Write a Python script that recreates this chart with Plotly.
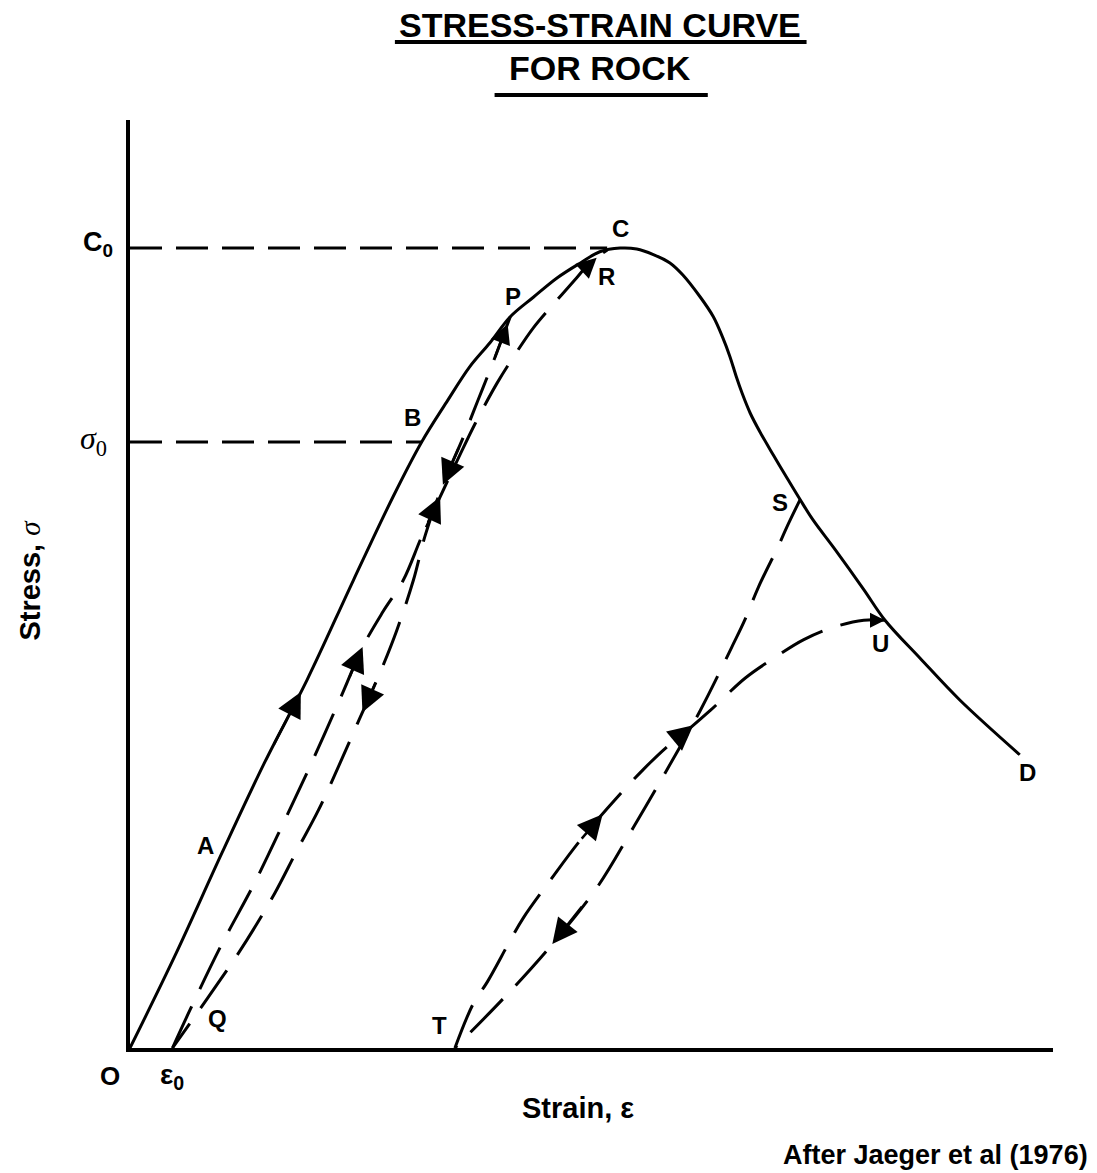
import numpy as np
import plotly.graph_objects as go

FONT = "Liberation Sans"

# Complete stress-strain envelope O-A-B-P-C-S-U-D (arbitrary units)
env_strain = [0.00, 0.49, 1.00, 1.46, 1.92, 2.42, 2.85, 3.16, 3.43, 3.68, 3.90,
              4.12, 4.37, 4.63, 4.88, 5.09, 5.31, 5.49, 5.67, 5.85, 5.99, 6.18,
              6.32, 6.42, 6.50, 6.57, 6.63, 6.72, 6.83, 6.97, 7.12, 7.26, 7.40,
              7.64, 7.95, 8.18, 8.56, 8.99, 9.64]
env_stress = [0.00, 1.00, 2.11, 3.08, 3.97, 5.04, 5.94, 6.53, 6.96, 7.34, 7.60,
              7.88, 8.09, 8.30, 8.46, 8.58, 8.62, 8.61, 8.55, 8.46, 8.33, 8.09,
              7.88, 7.66, 7.45, 7.23, 7.06, 6.84, 6.63, 6.39, 6.14, 5.91, 5.69,
              5.37, 4.94, 4.61, 4.20, 3.75, 3.16]

# Unloading from P down to Q
unload1_strain = [4.12, 3.93, 3.77, 3.61, 3.39, 3.20, 3.07, 2.89, 2.69, 2.47, 2.28,
                  2.04, 1.81, 1.57, 1.37, 1.16, 0.85, 0.46]
unload1_stress = [7.88, 7.38, 6.98, 6.58, 6.07, 5.53, 5.04, 4.50, 4.00, 3.51, 3.08,
                  2.56, 2.13, 1.67, 1.33, 1.00, 0.55, 0.00]

# Reloading from Q up to R
reload1_strain = [0.46, 0.65, 0.98, 1.35, 1.66, 1.98, 2.31, 2.52, 2.74, 2.96, 3.16,
                  3.36, 3.55, 3.74, 3.98, 4.17, 4.37, 4.60, 4.84, 4.98, 5.17]
reload1_stress = [0.00, 0.41, 1.09, 1.78, 2.42, 3.10, 3.84, 4.32, 4.70, 5.04, 5.51,
                  5.94, 6.34, 6.73, 7.17, 7.47, 7.76, 8.03, 8.30, 8.46, 8.60]

# Unloading from S down to T (post-peak)
unload2_strain = [7.26, 7.11, 7.03, 6.81, 6.66, 6.52, 6.18, 5.83, 5.45, 5.06, 4.55, 4.08, 3.52]
unload2_stress = [5.91, 5.60, 5.42, 4.97, 4.61, 4.32, 3.64, 3.02, 2.37, 1.73, 1.09, 0.57, 0.00]

# Reloading from T up to U
reload2_strain = [3.52, 3.72, 3.87, 4.12, 4.26, 4.57, 4.88, 5.25, 5.56, 5.80, 6.07,
                  6.29, 6.67, 6.99, 7.30, 7.64, 7.95, 8.18]
reload2_stress = [0.00, 0.48, 0.71, 1.16, 1.40, 1.83, 2.24, 2.67, 3.00, 3.23, 3.45,
                  3.64, 3.99, 4.21, 4.40, 4.54, 4.61, 4.61]

# named points on the envelope
I_A, I_B, I_P, I_C, I_S, I_U = 2, 7, 11, 16, 31, 35
C0 = max(env_stress)          # uniaxial compressive strength
SIGMA0 = env_stress[I_B]      # stress at B
B_STRAIN = env_strain[I_B]

fig = go.Figure()

LOOP_DASH = "46px,19px"
REF_DASH = "32px,14px"


def curve(xs, ys, dash=None, width=3):
    fig.add_trace(go.Scatter(
        x=xs, y=ys, mode="lines",
        line=dict(color="black", width=width, dash=dash, shape="spline", smoothing=1.0),
        hoverinfo="skip", cliponaxis=False))


curve(env_strain, env_stress, width=3)
curve(unload1_strain, unload1_stress, dash=LOOP_DASH)
curve(reload1_strain, reload1_stress, dash=LOOP_DASH)
curve(unload2_strain, unload2_stress, dash=LOOP_DASH)
curve(reload2_strain, reload2_stress, dash=LOOP_DASH)

# dashed reference levels C0 and sigma0
fig.add_trace(go.Scatter(x=[0, reload1_strain[-1]], y=[C0, C0], mode="lines",
                         line=dict(color="black", width=3, dash=REF_DASH), hoverinfo="skip"))
fig.add_trace(go.Scatter(x=[0, B_STRAIN], y=[SIGMA0, SIGMA0], mode="lines",
                         line=dict(color="black", width=3, dash=REF_DASH), hoverinfo="skip"))


def point_at(xs, ys, s):
    i = int(np.floor(s))
    if i >= len(xs) - 1:
        return xs[-1], ys[-1]
    f = s - i
    return xs[i] + f * (xs[i + 1] - xs[i]), ys[i] + f * (ys[i + 1] - ys[i])


def arrow(xs, ys, s_tail, s_head, size=2.0):
    x0, y0 = point_at(xs, ys, s_tail)
    x1, y1 = point_at(xs, ys, s_head)
    fig.add_annotation(x=x1, y=y1, ax=x0, ay=y0, xref="x", yref="y", axref="x", ayref="y",
                       text="", showarrow=True, arrowhead=2, arrowsize=size, arrowwidth=2.5,
                       arrowcolor="black", standoff=0, startstandoff=0)


# direction arrows along the loading paths
arrow(env_strain, env_stress, 3.2, 3.85)
arrow(unload1_strain, unload1_stress, 0.9, 0.15, size=1.6)
arrow(unload1_strain, unload1_stress, 3.2, 4.0)
arrow(unload1_strain, unload1_stress, 8.1, 8.78)
arrow(reload1_strain, reload1_stress, 6.3, 7.0)
arrow(reload1_strain, reload1_stress, 10.2, 11.0)
arrow(reload1_strain, reload1_stress, 18.5, 19.4, size=1.6)
arrow(unload2_strain, unload2_stress, 9.3, 9.95)
arrow(reload2_strain, reload2_stress, 6.0, 6.65)
arrow(reload2_strain, reload2_stress, 9.5, 10.15)
arrow(reload2_strain, reload2_stress, 16.5, 17.0, size=1.2)


def label(text, x, y, dx, dy, size=24, family=FONT):
    fig.add_annotation(x=x, y=y, xref="x", yref="y", text=text, showarrow=False,
                       xshift=dx, yshift=dy, font=dict(size=size, family=family, color="black"))


label("<b>O</b>", 0, 0, -20, -28, size=26)
label("<b>ε<sub>0</sub></b>", unload1_strain[-1], 0, 0, -28, size=28)
label("<b>Q</b>", unload1_strain[-1], 0, 45, 30)
label("<b>T</b>", unload2_strain[-1], 0, -15, 23)
label("<b>A</b>", env_strain[I_A], env_stress[I_A], -17, 7)
label("<b>B</b>", B_STRAIN, SIGMA0, -9, 25)
label("<b>P</b>", env_strain[I_P], env_stress[I_P], 3, 20)
label("<b>C</b>", env_strain[I_C], env_stress[I_C], 0, 20)
label("<b>R</b>", reload1_strain[-1], reload1_stress[-1], -1, -27)
label("<b>S</b>", env_strain[I_S], env_stress[I_S], -20, -3)
label("<b>U</b>", env_strain[I_U], env_stress[I_U], -5, -23)
label("<b>D</b>", env_strain[-1], env_stress[-1], 8, -18)
label("<b>C<sub>0</sub></b>", 0, C0, -32, 4, size=27)
label("<i>σ</i><sub>0</sub>", 0, SIGMA0, -37, 2, size=32, family="Liberation Serif")


def note(text, x, y, size, **kw):
    fig.add_annotation(x=x, y=y, xref="paper", yref="paper", showarrow=False,
                       xanchor=kw.pop("xanchor", "center"), yanchor="middle",
                       text=text, font=dict(size=size, family=FONT, color="black"), **kw)


# axis titles, heading and source note
note("<b>Stress,</b> <span style='font-family:Liberation Serif'><i>σ</i></span>",
     -0.108, 0.504, 29, textangle=-90)
note("<b>Strain, ε</b>", 0.485, -0.065, 29)
note("<b>After Jaeger et al (1976)</b>", 1.040, -0.1153, 27, xanchor="right")
note("<b>STRESS-STRAIN CURVE</b>", 0.509, 1.102, 34)
note("<b>FOR ROCK</b>", 0.509, 1.056, 34)
fig.add_shape(type="line", xref="paper", yref="paper", x0=0.287, x1=0.733, y0=1.084, y1=1.084,
              line=dict(color="black", width=4))
fig.add_shape(type="line", xref="paper", yref="paper", x0=0.395, x1=0.626, y0=1.027, y1=1.027,
              line=dict(color="black", width=4))

axis_style = dict(range=[0, 10], showline=True, linewidth=4, linecolor="black", showgrid=False,
                  zeroline=False, showticklabels=False, ticks="", fixedrange=True)
fig.update_layout(
    width=1097, height=1173,
    margin=dict(l=130, r=44, t=120, b=125),
    paper_bgcolor="white", plot_bgcolor="white",
    showlegend=False,
    xaxis=axis_style, yaxis=axis_style,
)

fig.write_html("out.html")
